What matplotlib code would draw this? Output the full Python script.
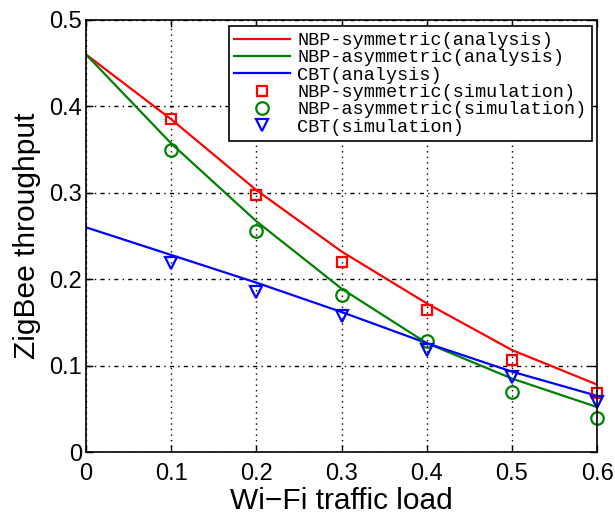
import matplotlib
matplotlib.use("Agg")
import matplotlib.pyplot as plt
import numpy as np

# carga de trafico Wi-Fi
carga = [0, 0.1, 0.2, 0.3, 0.4, 0.5, 0.6]

# curvas de analisis
nbp_sim_ana = [0.46, 0.385, 0.303, 0.232, 0.172, 0.118, 0.078]
nbp_asim_ana = [0.46, 0.357, 0.267, 0.189, 0.126, 0.085, 0.052]
cbt_ana = [0.26, 0.228, 0.196, 0.162, 0.126, 0.093, 0.065]

# puntos de simulacion
carga_sim = [0.1, 0.2, 0.3, 0.4, 0.5, 0.6]
nbp_sim_sim = [0.385, 0.298, 0.220, 0.164, 0.106, 0.068]
nbp_asim_sim = [0.349, 0.256, 0.182, 0.128, 0.070, 0.039]
cbt_sim = [0.219, 0.185, 0.157, 0.118, 0.087, 0.058]

etiquetas = ['NBP-symmetric(analysis)', 'NBP-asymmetric(analysis)', 'CBT(analysis)',
             'NBP-symmetric(simulation)', 'NBP-asymmetric(simulation)', 'CBT(simulation)']

rojo = '#ff0000'
verde = '#008000'
azul = '#0000ff'

plt.rcParams['font.family'] = ['Liberation Sans', 'DejaVu Sans']

fig = plt.figure(figsize=(6.15, 5.14), dpi=100)
ax = fig.add_axes([0.140, 0.1206, 0.831, 0.8405])

ax.plot(carga, nbp_sim_ana, color=rojo, lw=1.6, label=etiquetas[0])
ax.plot(carga, nbp_asim_ana, color=verde, lw=1.6, label=etiquetas[1])
ax.plot(carga, cbt_ana, color=azul, lw=1.6, label=etiquetas[2])
ax.plot(carga_sim, nbp_sim_sim, 's', ms=7, mfc='none', mec=rojo, mew=1.6,
        clip_on=False, label=etiquetas[3])
ax.plot(carga_sim, nbp_asim_sim, 'o', ms=9, mfc='none', mec=verde, mew=1.6,
        clip_on=False, label=etiquetas[4])
ax.plot(carga_sim, cbt_sim, 'v', ms=9, mfc='none', mec=azul, mew=1.6,
        clip_on=False, label=etiquetas[5])

ax.set_xlim(0, 0.6)
ax.set_ylim(0, 0.5)
ax.set_xticks(carga)
ax.set_xticklabels(['0', '0.1', '0.2', '0.3', '0.4', '0.5', '0.6'])
ax.set_yticks([0, 0.1, 0.2, 0.3, 0.4, 0.5])
ax.set_yticklabels(['0', '0.1', '0.2', '0.3', '0.4', '0.5'])
ax.tick_params(direction='in', top=True, right=True, labelsize=17, length=5,
               width=1)
ax.tick_params(axis='x', pad=8)
ax.tick_params(axis='y', pad=3)
ax.xaxis.grid(True, color='k', linestyle=(0, (1, 3)), lw=1)
ax.yaxis.grid(True, color='k', linestyle=(0, (3, 3, 1, 3)), lw=1)
for s in ax.spines.values():
    s.set_linewidth(1.2)

ax.set_xlabel('Wi\u2212Fi traffic load', fontsize=21.5, labelpad=1)
ax.set_ylabel('ZigBee throughput', fontsize=21.5, labelpad=6)

leg = ax.legend(loc='upper right', bbox_to_anchor=(0.99, 0.985), fancybox=False,
                edgecolor='k', framealpha=1, handlelength=3, handletextpad=0.4,
                labelspacing=0.02, borderpad=0.3, borderaxespad=0,
                prop={'family': 'Liberation Mono', 'size': 13.3})
leg.get_frame().set_linewidth(1.2)

fig.savefig('out.png', dpi=100)
